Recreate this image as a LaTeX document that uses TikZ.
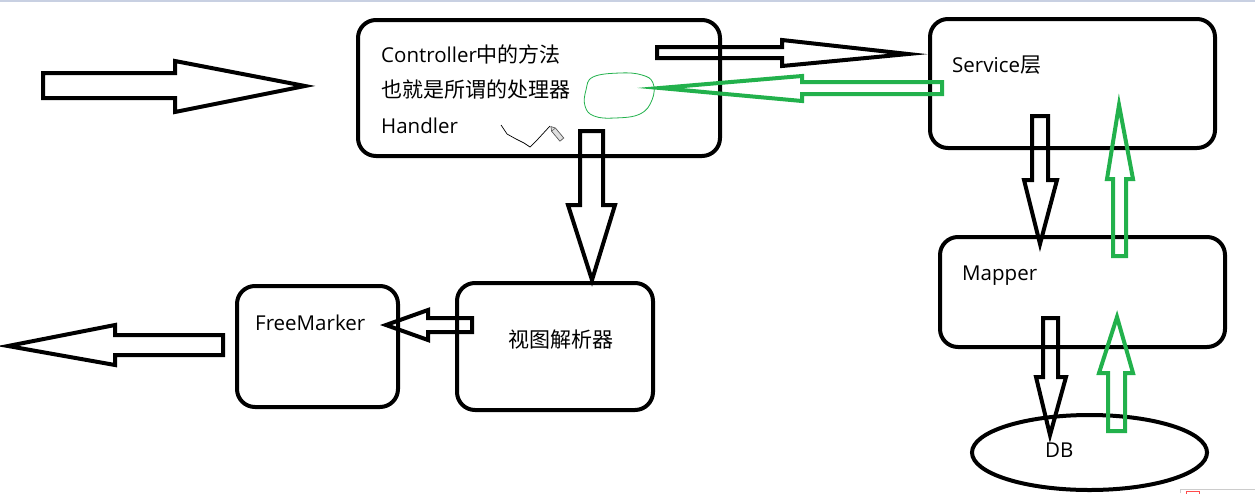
\documentclass[tikz,border=0pt]{standalone}
\usepackage{fontspec}
\setmainfont{Open Sans}
\newfontfamily\cjk{Noto Sans CJK SC}[Scale=1.025]
\usetikzlibrary{shapes.geometric}
\definecolor{pgreen}{RGB}{34,177,76}
\definecolor{topline}{RGB}{200,208,226}
\newcommand{\zh}[1]{{\cjk #1}}
\begin{document}
\begin{tikzpicture}[x=1pt,y=-1pt,
  box/.style={draw=black, line width=4pt, rounded corners=18pt, inner sep=0pt, outer sep=0pt},
  blk/.style={draw=black, line width=4pt, line join=miter, miter limit=20},
  grn/.style={draw=pgreen, line width=4pt, line join=miter, miter limit=20},
  lbl/.style={inner sep=0pt, anchor=base west, font=\fontsize{20.5}{24}\selectfont}]
\useasboundingbox (0,0) rectangle (1255,493);
\fill[topline] (0,0) rectangle (1255,2);

% boxes
\node[box, minimum width=362pt, minimum height=136pt] (ctrl) at (539,88) {};
\node[box, minimum width=285pt, minimum height=129pt] (svc) at (1072.5,83.5) {};
\node[box, minimum width=285pt, minimum height=110pt] (mapper) at (1082.5,292) {};
\node[box, minimum width=161pt, minimum height=121pt] (fm) at (317.5,346.5) {};
\node[box, minimum width=196pt, minimum height=127pt] (view) at (555,346.5) {};
\node[draw=black, line width=4pt, ellipse, inner sep=0pt, minimum width=235pt, minimum height=75pt] (db) at (1089.5,452.5) {};

% labels
\node[lbl] (t1) at (381,62) {Controller\zh{中的方法}};
\node[lbl] (t2) at (381,97.5) {\zh{也就是所谓的处理器}};
\node[lbl] (t3) at (381,133) {Handler};
\node[lbl] (t4) at (952,72) {Service\zh{层}};
\node[lbl] (t5) at (962,280) {Mapper};
\node[lbl] (t6) at (255,330) {FreeMarker};
\node[lbl] (t7) at (508,347) {\zh{视图解析器}};
\node[lbl] (t8) at (1045,457) {DB};

% block arrows (black)
\draw[blk] (43,73) -- (175,73) -- (175,61) -- (305,86) -- (175,112) -- (175,98) -- (43,98) -- cycle;
\draw[blk] (657,47) -- (782,47) -- (782,40) -- (908,54) -- (782,66) -- (782,58) -- (657,58) -- cycle;
\draw[blk] (580,131) -- (603,131) -- (603,205) -- (615,205) -- (592,280) -- (568,205) -- (580,205) -- cycle;
\draw[blk] (472,318) -- (428,318) -- (428,310) -- (386,325) -- (428,340) -- (428,332) -- (472,332) -- cycle;
\draw[blk] (223,335) -- (115,335) -- (115,325) -- (8,346) -- (115,365) -- (115,355) -- (223,355) -- cycle;
\draw[blk] (1032,116) -- (1048,116) -- (1048,180) -- (1057,180) -- (1040,244) -- (1024,180) -- (1032,180) -- cycle;
\draw[blk] (1043,318) -- (1058,318) -- (1058,377) -- (1066,377) -- (1050,435) -- (1036,377) -- (1043,377) -- cycle;

% block arrows (green)
\draw[grn] (942,82) -- (802,82) -- (802,76) -- (660,88) -- (802,101) -- (802,94) -- (942,94) -- cycle;
\draw[grn] (1113,256) -- (1113,179) -- (1107,179) -- (1119,105) -- (1133,179) -- (1126,179) -- (1126,256) -- cycle;
\draw[grn] (1108,431) -- (1108,373) -- (1099,373) -- (1117,317) -- (1133,373) -- (1125,373) -- (1125,431) -- cycle;

% green freehand loop
\draw[pgreen, line width=0.8pt] plot[smooth cycle, tension=0.7] coordinates
  {(593,77) (620,73) (642,75) (653,83) (652,100) (640,114) (615,118) (594,116) (585,106) (586,90)};

% scribble and pencil
\draw[black, line width=0.7pt] (501,125) -- (507,134) -- (516,139) -- (524,143) -- (530,147) -- (538,139) -- (550,126);
\begin{scope}[shift={(558,135)}, rotate=-50]
  \draw[gray!70!black, fill=gray!25, line width=0.7pt] (-7,-2.5) -- (6,-2.5) -- (6,2.5) -- (-7,2.5) -- (-11,0) -- cycle;
  \draw[gray!70!black, line width=0.5pt] (-7,-2.5) -- (-7,2.5);
\end{scope}

% bottom-right artifact
\draw[gray!40, line width=0.6pt] (1180,493) -- (1180,489) -- (1255,489);
\draw[red!70, line width=0.6pt] (1186,491) rectangle (1199,497);
\end{tikzpicture}
\end{document}
